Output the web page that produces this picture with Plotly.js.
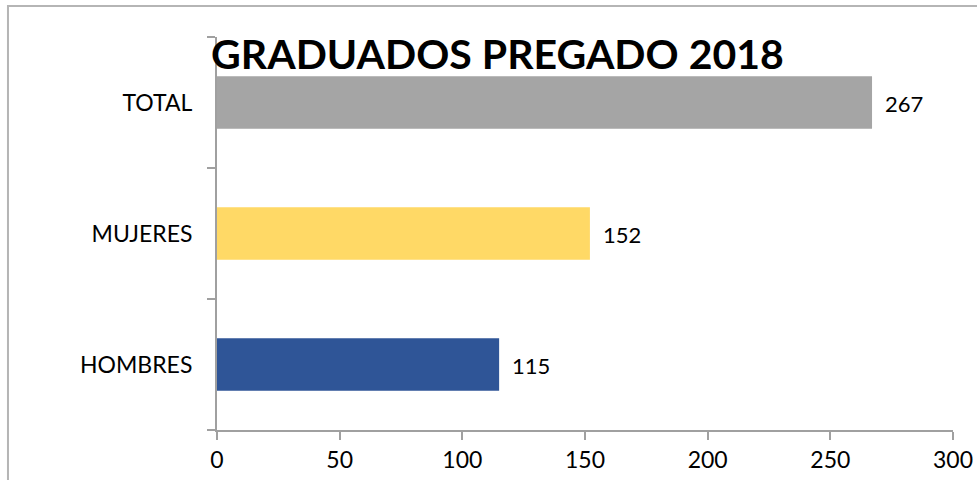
<!DOCTYPE html>
<html>
<head>
<meta charset="utf-8">
<script src="https://cdn.plot.ly/plotly-3.0.1.min.js"></script>
<style>html,body{margin:0;padding:0;background:#fff;}#chart{width:977px;height:480px;}</style>
</head>
<body>
<div id="chart"></div>
<script>
const categories = ["HOMBRES", "MUJERES", "TOTAL"];
const values = [115, 152, 267];
const barColors = ["#2f5597", "#ffd966", "#a5a5a5"];
const xTicks = [0, 50, 100, 150, 200, 250, 300];
const chartTitle = "GRADUADOS PREGADO 2018";

const FONT = "Lato, 'Open Sans', sans-serif";

const trace = {
  type: "bar",
  orientation: "h",
  y: categories,
  x: values,
  width: 0.4,
  marker: {color: barColors},
  hoverinfo: "none"
};

const annotations = categories.map((c, i) => ({
  x: values[i], y: c, xref: "x", yref: "y",
  text: String(values[i]),
  showarrow: false, xanchor: "left", yanchor: "middle",
  xshift: 11, yshift: -1,
  font: {family: FONT, size: 22, color: "#000"}
}));

const layout = {
  width: 977, height: 480,
  margin: {l: 217, r: 24, t: 37, b: 50},
  paper_bgcolor: "#fff",
  plot_bgcolor: "#fff",
  showlegend: false,
  font: {family: FONT, color: "#000"},
  title: {
    text: "<b>" + chartTitle + "</b>",
    font: {family: FONT, size: 41, color: "#000"},
    xref: "paper", x: 0.381, xanchor: "center",
    yref: "container", y: 0.887, yanchor: "middle"
  },
  xaxis: {
    range: [0, 300],
    tickvals: xTicks,
    ticktext: xTicks.map(String),
    showgrid: false, zeroline: false,
    showline: true, linecolor: "#a0a0a0", linewidth: 2,
    ticks: "outside", ticklen: 8, tickwidth: 2, tickcolor: "#a0a0a0",
    tickfont: {family: FONT, size: 23, color: "#000"},
    fixedrange: true
  },
  yaxis: {
    type: "category",
    categoryorder: "array", categoryarray: categories,
    range: [-0.5, 2.5],
    tickson: "boundaries",
    showgrid: false, zeroline: false,
    showline: true, linecolor: "#a0a0a0", linewidth: 2,
    ticks: "outside", ticklen: 8, tickwidth: 2, tickcolor: "#a0a0a0",
    tickfont: {family: FONT, size: 23, color: "#000"},
    ticklabelstandoff: 18,
    fixedrange: true
  },
  annotations: annotations,
  shapes: [{
    type: "rect", xref: "paper", yref: "paper",
    x0: -0.284, x1: 1.2, y0: -0.3, y1: 1.0789,
    line: {color: "#b5b5b5", width: 2}, fillcolor: "rgba(0,0,0,0)",
    layer: "below"
  }]
};

Plotly.newPlot("chart", [trace], layout, {displayModeBar: false, staticPlot: true});
</script>
</body>
</html>
